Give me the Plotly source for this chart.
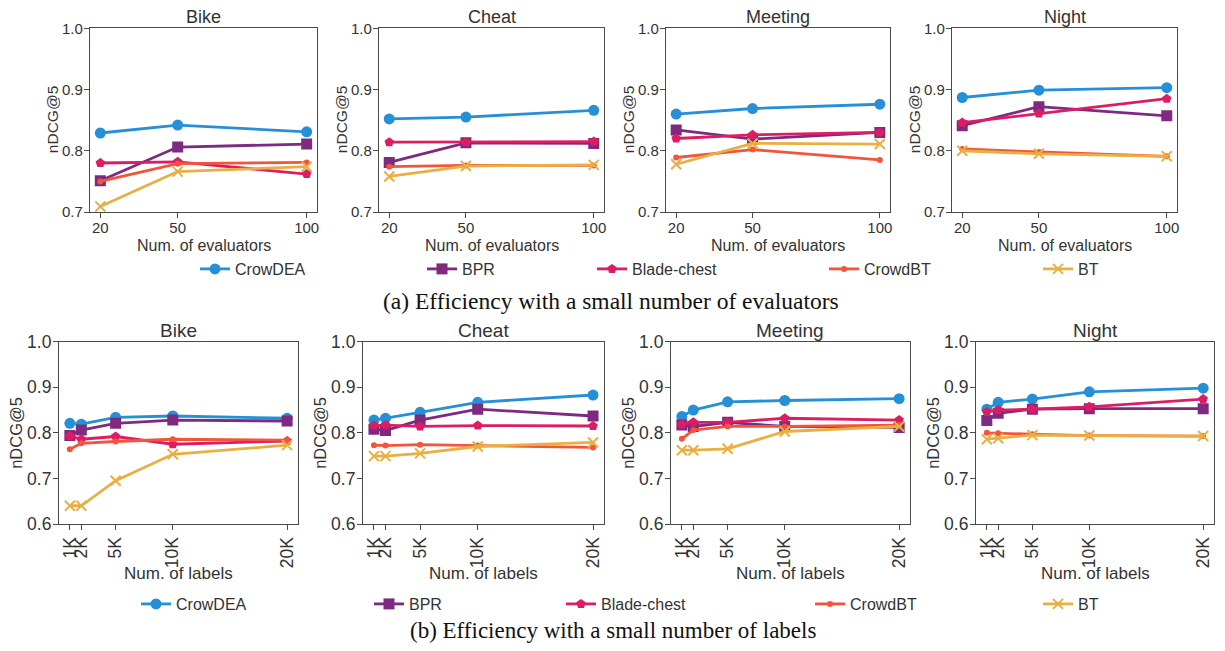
import plotly.graph_objects as go

# ---------------- data ----------------
methods = ["CrowDEA", "BPR", "Blade-chest", "CrowdBT", "BT"]
datasets = ["Bike", "Cheat", "Meeting", "Night"]

evaluators = [20, 50, 100]
evaluator_ticks = ["20", "50", "100"]

labels_k = [1, 2, 5, 10, 20]
label_ticks = ["1K", "2K", "5K", "10K", "20K"]

yticks_top = [0.7, 0.8, 0.9, 1.0]
yticks_top_text = ["0.7", "0.8", "0.9", "1.0"]
yticks_bot = [0.6, 0.7, 0.8, 0.9, 1.0]
yticks_bot_text = ["0.6", "0.7", "0.8", "0.9", "1.0"]

# (a) small number of evaluators
eval_bike = {
    "CrowDEA": [0.829, 0.842, 0.831],
    "BPR": [0.751, 0.806, 0.811],
    "Blade-chest": [0.780, 0.782, 0.762],
    "CrowdBT": [0.750, 0.779, 0.781],
    "BT": [0.709, 0.766, 0.774],
}
eval_cheat = {
    "CrowDEA": [0.852, 0.855, 0.866],
    "BPR": [0.781, 0.813, 0.812],
    "Blade-chest": [0.814, 0.814, 0.815],
    "CrowdBT": [0.774, 0.776, 0.776],
    "BT": [0.758, 0.775, 0.777],
}
eval_meeting = {
    "CrowDEA": [0.860, 0.869, 0.876],
    "BPR": [0.834, 0.819, 0.830],
    "Blade-chest": [0.820, 0.826, 0.830],
    "CrowdBT": [0.789, 0.802, 0.785],
    "BT": [0.778, 0.812, 0.811],
}
eval_night = {
    "CrowDEA": [0.887, 0.899, 0.903],
    "BPR": [0.841, 0.872, 0.857],
    "Blade-chest": [0.846, 0.861, 0.885],
    "CrowdBT": [0.803, 0.798, 0.791],
    "BT": [0.800, 0.795, 0.791],
}

# (b) small number of labels
label_bike = {
    "CrowDEA": [0.821, 0.819, 0.834, 0.837, 0.832],
    "BPR": [0.794, 0.806, 0.821, 0.828, 0.826],
    "Blade-chest": [0.793, 0.786, 0.792, 0.775, 0.782],
    "CrowdBT": [0.764, 0.777, 0.781, 0.786, 0.784],
    "BT": [0.640, 0.640, 0.695, 0.753, 0.773],
}
label_cheat = {
    "CrowDEA": [0.828, 0.832, 0.845, 0.867, 0.883],
    "BPR": [0.808, 0.805, 0.828, 0.852, 0.837],
    "Blade-chest": [0.816, 0.817, 0.814, 0.816, 0.815],
    "CrowdBT": [0.773, 0.772, 0.774, 0.772, 0.768],
    "BT": [0.749, 0.749, 0.755, 0.770, 0.779],
}
label_meeting = {
    "CrowDEA": [0.836, 0.850, 0.868, 0.871, 0.875],
    "BPR": [0.817, 0.814, 0.823, 0.814, 0.812],
    "Blade-chest": [0.819, 0.823, 0.823, 0.832, 0.828],
    "CrowdBT": [0.787, 0.806, 0.814, 0.814, 0.817],
    "BT": [0.762, 0.762, 0.765, 0.803, 0.814],
}
label_night = {
    "CrowDEA": [0.852, 0.867, 0.874, 0.890, 0.898],
    "BPR": [0.827, 0.843, 0.852, 0.853, 0.853],
    "Blade-chest": [0.846, 0.850, 0.852, 0.857, 0.874],
    "CrowdBT": [0.800, 0.799, 0.797, 0.794, 0.793],
    "BT": [0.786, 0.788, 0.795, 0.794, 0.793],
}

top_data = [eval_bike, eval_cheat, eval_meeting, eval_night]
bot_data = [label_bike, label_cheat, label_meeting, label_night]

caption_a = "(a) Efficiency with a small number of evaluators"
caption_b = "(b) Efficiency with a small number of labels"
ytitle = "nDCG@5"
xtitle_top = "Num. of evaluators"
xtitle_bot = "Num. of labels"

# ---------------- styles ----------------
colors = {
    "CrowDEA": "#2690d6",
    "BPR": "#7d2a80",
    "Blade-chest": "#dd1d63",
    "CrowdBT": "#f3553a",
    "BT": "#e9af43",
}
symbols = {
    "CrowDEA": "circle",
    "BPR": "square",
    "Blade-chest": "pentagon",
    "CrowdBT": "circle",
    "BT": "x-thin",
}
msizes = {"CrowDEA": 11, "BPR": 11, "Blade-chest": 10, "CrowdBT": 6, "BT": 10}
legend_w_top = {"CrowDEA": 182, "BPR": 125, "Blade-chest": 187, "CrowdBT": 169, "BT": 30}
legend_w_bot = {"CrowDEA": 188, "BPR": 147, "Blade-chest": 204, "CrowdBT": 183, "BT": 30}

# page is shown with an 8px body margin -> figure is 16px smaller
OFF = 8
FW, FH = 1225 - 2 * OFF, 651 - 2 * OFF


def px(p):
    return (p - OFF) / FW


def py(p):
    return 1 - (p - OFF) / FH


# panel frames in page pixels
top_px = [(90, 317), (379, 604), (666, 890), (952, 1177)]
bot_px = [(59, 298), (363, 604), (671, 910), (976, 1214)]
top_y = (28.3, 212)
bot_y = (341.7, 524)

FONT = "Arial, Liberation Sans, sans-serif"
SERIF = "Liberation Serif, Times New Roman, serif"
TXT = "#333333"
AX = "#4a4a4a"

fig = go.Figure()


def add_panel(idx, data, xvals, legend_name, lw):
    ax = "" if idx == 1 else str(idx)
    for m in methods:
        fig.add_trace(go.Scatter(
            x=xvals, y=data[m], name=m, mode="lines+markers",
            line=dict(color=colors[m], width=2.8),
            marker=dict(symbol=symbols[m], size=msizes[m], color=colors[m],
                        line=dict(color=colors[m], width=2 if m == "BT" else 0)),
            xaxis="x" + ax, yaxis="y" + ax,
            legend=legend_name, legendwidth=lw[m],
            showlegend=(idx in (1, 5)),
        ))


for i in range(4):
    add_panel(i + 1, top_data[i], evaluators, "legend", legend_w_top)
for i in range(4):
    add_panel(i + 5, bot_data[i], labels_k, "legend2", legend_w_bot)

axis_common = dict(
    showline=True, mirror=True, linecolor=AX, linewidth=1.2,
    ticks="outside", ticklen=5, tickwidth=1.2, tickcolor=AX,
    showgrid=False, zeroline=False, automargin=False,
)


def ann(text, x, y, size, angle=0, family=FONT, color=TXT):
    return dict(text=text, x=x, y=y, xref="paper", yref="paper",
                xanchor="center", yanchor="middle", showarrow=False,
                textangle=angle, font=dict(family=family, size=size, color=color))


layout = {}
annotations = []
for i in range(8):
    n = i + 1
    key = "" if n == 1 else str(n)
    if i < 4:
        x0, x1 = top_px[i]
        y0, y1 = top_y
        tf = dict(family=FONT, size=15, color=TXT)
        xa = dict(axis_common, domain=[px(x0), px(x1)], anchor="y" + key,
                  range=[16, 104], tickvals=evaluators, ticktext=evaluator_ticks,
                  tickfont=tf, ticklabelstandoff=-3)
        ya = dict(axis_common, domain=[py(y1), py(y0)], anchor="x" + key,
                  range=[0.7, 1.0], tickvals=yticks_top, ticktext=yticks_top_text,
                  tickfont=tf, ticklabelstandoff=-2)
        annotations.append(ann(datasets[i], px((x0 + x1) / 2), py(16.5), 18))
        annotations.append(ann(xtitle_top, px((x0 + x1) / 2), py(245), 16))
        annotations.append(ann(ytitle, px(x0 - 38), py((y0 + y1) / 2), 15.5, -90))
    else:
        x0, x1 = bot_px[i - 4]
        y0, y1 = bot_y
        tf = dict(family=FONT, size=17.5, color=TXT)
        xa = dict(axis_common, domain=[px(x0), px(x1)], anchor="y" + key,
                  range=[0.05, 20.95], tickvals=labels_k, ticktext=label_ticks,
                  tickangle=-90, tickfont=tf)
        ya = dict(axis_common, domain=[py(y1), py(y0)], anchor="x" + key,
                  range=[0.6, 1.0], tickvals=yticks_bot, ticktext=yticks_bot_text,
                  tickfont=tf, ticklabelstandoff=-2)
        annotations.append(ann(datasets[i - 4], px((x0 + x1) / 2), py(330), 19))
        annotations.append(ann(xtitle_bot, px((x0 + x1) / 2), py(573), 17))
        annotations.append(ann(ytitle, px(x0 - 43), py((y0 + y1) / 2), 16.5, -90))
    layout["xaxis" + key] = xa
    layout["yaxis" + key] = ya

annotations.append(ann(caption_a, px(611), py(301), 23.5, family=SERIF, color="#111111"))
annotations.append(ann(caption_b, px(613), py(630.5), 23, family=SERIF, color="#111111"))

fig.update_layout(
    width=FW, height=FH,
    margin=dict(l=0, r=0, t=0, b=0, autoexpand=False),
    paper_bgcolor="white", plot_bgcolor="white",
    font=dict(family=FONT, color=TXT),
    annotations=annotations,
    legend=dict(orientation="h", x=187 / FW, xanchor="left", y=py(269),
                yanchor="middle", font=dict(family=FONT, size=16, color=TXT),
                bgcolor="rgba(0,0,0,0)", itemsizing="trace"),
    legend2=dict(orientation="h", x=128 / FW, xanchor="left", y=py(604),
                 yanchor="middle", font=dict(family=FONT, size=16, color=TXT),
                 bgcolor="rgba(0,0,0,0)", itemsizing="trace"),
    **layout,
)

fig.write_html("out.html")
